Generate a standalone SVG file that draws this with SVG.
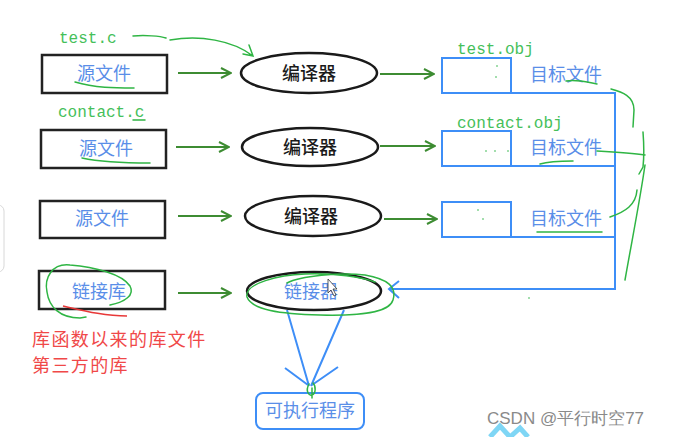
<svg xmlns="http://www.w3.org/2000/svg" width="676" height="437" viewBox="0 0 676 437">
<defs>
<style>
.src{fill:#fff;stroke:#222;stroke-width:2.5}
.ell{fill:#fff;stroke:#1a1a1a;stroke-width:2.5}
.obj{fill:#fff;stroke:#3e8ef7;stroke-width:2}
.bt{font-family:"Noto Sans CJK SC",sans-serif;font-size:18px;fill:#5a8ee8;text-anchor:middle}
.kt{font-family:"Noto Sans CJK SC",sans-serif;font-size:18px;font-weight:500;fill:#1a1a1a;text-anchor:middle}
.mono{font-family:"Liberation Mono",monospace;font-size:16px;fill:#45c05a}
.red{font-family:"Noto Sans CJK SC",sans-serif;font-size:18px;fill:#f04848;letter-spacing:1.4px}
.ga{fill:none;stroke:#3d8c32;stroke-width:2}
.bl{fill:none;stroke:#3e8ef7;stroke-width:2}
.hand{fill:none;stroke:#2fb544;stroke-width:1.5;stroke-linecap:round}
</style>
<marker id="gah" viewBox="0 0 12 12" refX="11" refY="6" markerWidth="12" markerHeight="12" markerUnits="userSpaceOnUse" orient="auto">
<path d="M1,1 L11,6 L1,11" fill="none" stroke="#3d8c32" stroke-width="2"/>
</marker>
</defs>
<rect width="676" height="437" fill="#fff"/>
<rect x="-12" y="205" width="16" height="67" rx="6" fill="none" stroke="#d8d8d8" stroke-width="1"/>

<g id="connectors">
<line class="ga" x1="178" y1="73" x2="231" y2="73" marker-end="url(#gah)"/>
<line class="ga" x1="176" y1="147" x2="229" y2="147" marker-end="url(#gah)"/>
<line class="ga" x1="178" y1="216" x2="231" y2="216" marker-end="url(#gah)"/>
<line class="ga" x1="178" y1="293" x2="231" y2="293" marker-end="url(#gah)"/>
<line class="ga" x1="380" y1="74" x2="434" y2="74" marker-end="url(#gah)"/>
<line class="ga" x1="380" y1="146" x2="435" y2="146" marker-end="url(#gah)"/>
<line class="ga" x1="384" y1="219" x2="437" y2="219" marker-end="url(#gah)"/>
<path class="bl" d="M511,93 H615 V289 H389 M511,166 H615 M511,237 H615"/>
<path class="bl" d="M399,281 L389,289 L399,298"/>
<path class="bl" d="M287,310 L309,386 M344,310 L311,386 M285,368 L308,385 M338,367 L312,385"/>
</g>

<g id="src1"><rect class="src" x="42" y="55" width="125" height="38"/><text class="bt" x="104" y="80">源文件</text></g>
<g id="src2"><rect class="src" x="41" y="130" width="125" height="38"/><text class="bt" x="106" y="155">源文件</text></g>
<g id="src3"><rect class="src" x="40" y="201" width="125" height="37"/><text class="bt" x="102" y="225">源文件</text></g>
<g id="lib"><rect class="src" x="39" y="271" width="126" height="38"/><text class="bt" x="99" y="298">链接库</text></g>

<g id="comp1"><ellipse class="ell" cx="309" cy="73" rx="68" ry="20"/><text class="kt" x="309" y="80">编译器</text></g>
<g id="comp2"><ellipse class="ell" cx="310" cy="147" rx="68" ry="19"/><text class="kt" x="310" y="154">编译器</text></g>
<g id="comp3"><ellipse class="ell" cx="313" cy="216" rx="68" ry="20"/><text class="kt" x="311" y="223">编译器</text></g>
<g id="linker"><ellipse class="ell" cx="314" cy="291" rx="67" ry="19"/><text class="bt" x="311" y="298">链接器</text></g>

<g id="obj1"><rect class="obj" x="442" y="58" width="69" height="35"/><text class="bt" x="566" y="81">目标文件</text></g>
<g id="obj2"><rect class="obj" x="442" y="131" width="69" height="35"/><text class="bt" x="566" y="154">目标文件</text></g>
<g id="obj3"><rect class="obj" x="442" y="202" width="69" height="35"/><text class="bt" x="566" y="225">目标文件</text></g>

<g id="exe"><rect x="256" y="393" width="108" height="36" rx="7" fill="#fff" stroke="#3e8ef7" stroke-width="2"/><text class="bt" x="310" y="417">可执行程序</text></g>

<g id="labels">
<text class="mono" x="59" y="43">test.c</text>
<text class="mono" x="58" y="117">contact.c</text>
<text class="mono" x="457" y="54">test.obj</text>
<text class="mono" x="457" y="128">contact.obj</text>
<text class="red" x="32" y="346">库函数以来的库文件</text>
<text class="red" x="32" y="372">第三方的库</text>
<text x="487" y="424" font-family="Liberation Sans,Arial,sans-serif" font-size="17" fill="#8a8a8a">CSDN @平行时空77</text>
</g>

<g id="annotations">
<path class="hand" d="M133,36 C145,35 160,36 166,38 M170,40 C200,35 232,40 253,56 M249,45 L253,56 L243,54"/>
<path class="hand" d="M75,82 C95,88 115,88 134,88"/>
<path class="hand" d="M82,158 C105,163 130,163 150,163"/>
<path class="hand" d="M133,120 L145,120"/>
<path class="hand" d="M566,81 C578,79 590,83 597,84"/>
<path class="hand" d="M540,164 C550,161 563,161 573,161"/>
<path class="hand" d="M537,232 L602,232"/>
<path class="hand" d="M611,89 C622,92 634,96 634,110 L633,127"/>
<path class="hand" d="M643,132 C644,145 644,158 643,167 L639,174"/>
<path class="hand" d="M597,151 C615,152 632,153 645,155"/>
<path class="hand" d="M637,190 C636,205 625,212 610,217"/>
<path class="hand" d="M645,165 C640,200 632,240 625,280"/>
<path class="hand" d="M110,305 C125,302 135,295 130,286 C122,274 95,267 70,265 C52,263 44,278 47,292 C49,307 60,318 80,318 L86,317"/>
<path d="M63,306 C85,311 105,316 127,316" fill="none" stroke="#e83838" stroke-width="1.5"/>
<path class="hand" d="M287,283 C300,276 340,272 365,275 C388,279 397,287 393,300 C389,313 360,316 320,315 C280,314 252,310 247,297 C244,283 280,275 305,274 C335,273 362,277 375,282"/>
<path class="hand" d="M309,384 C305,391 309,396 312,395 C316,394 316,386 313,383 M312,388 L312,398"/>
<circle cx="497" cy="66" r="0.8" fill="#2fb544"/><circle cx="496" cy="77" r="0.8" fill="#2fb544"/>
<circle cx="486" cy="151" r="0.8" fill="#2fb544"/><circle cx="495" cy="151" r="0.8" fill="#2fb544"/><circle cx="508" cy="151" r="0.8" fill="#2fb544"/>
<circle cx="478" cy="210" r="0.8" fill="#2fb544"/><circle cx="483" cy="219" r="0.8" fill="#2fb544"/>
<circle cx="529" cy="298" r="0.8" fill="#2fb544"/>
<path d="M328,279 L328,293 L331,290 L334,296 L336,295 L333,289 L337,289 Z" fill="#fff" stroke="#333" stroke-width="0.8"/>
<path d="M490,437 L500,426 L510,437 M510,437 L520,428 L528,437" fill="none" stroke="#7fd6f5" stroke-width="5"/>
</g>
</svg>
